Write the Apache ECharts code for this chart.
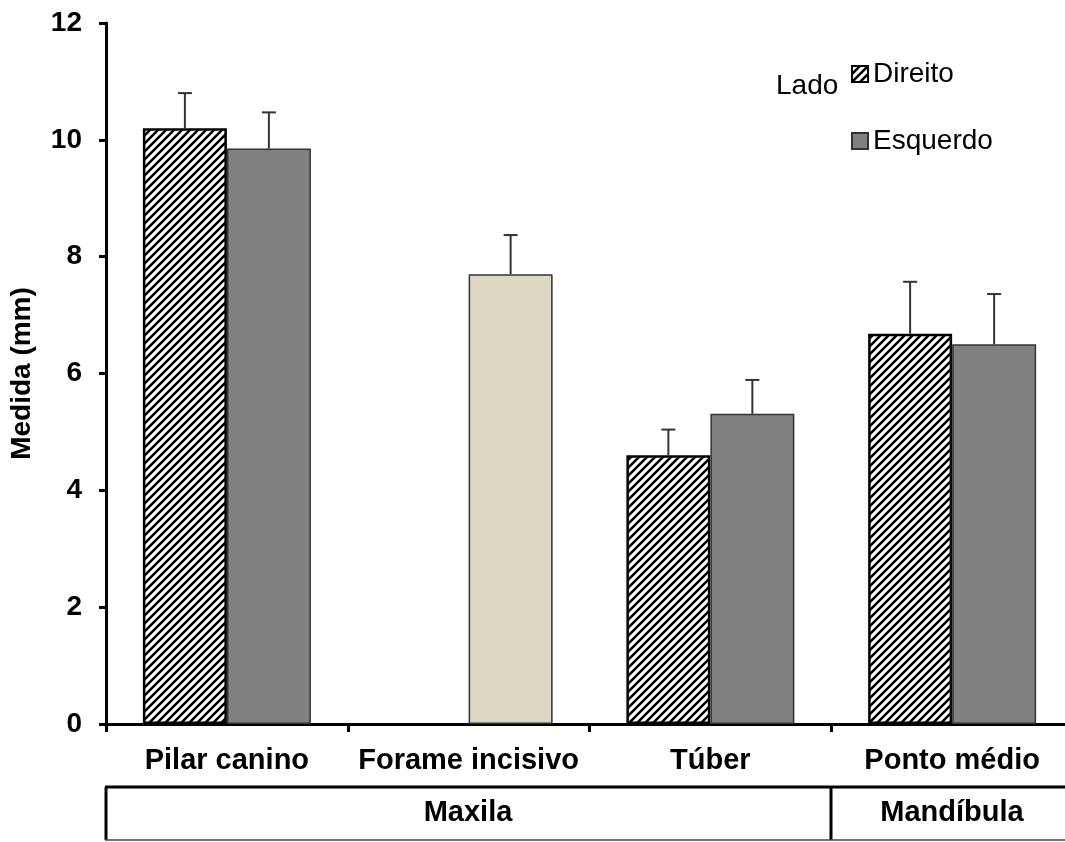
<!DOCTYPE html>
<html>
<head>
<meta charset="utf-8">
<script src="https://cdn.jsdelivr.net/npm/echarts@6/dist/echarts.min.js"></script>
<style>
  html, body { margin: 0; padding: 0; background: #fff; overflow: hidden; }
  #main { width: 1080px; height: 842px; }
</style>
</head>
<body>
<div id="main"></div>
<script>
var categories = ['Pilar canino', 'Forame incisivo', 'Túber', 'Ponto médio'];
var direito = [10.2, null, 4.6, 6.68];
var direitoErr = [0.6, null, 0.44, 0.89];
var esquerdo = [9.85, 7.7, 5.31, 6.5];
var esquerdoErr = [0.62, 0.67, 0.58, 0.86];
var groups = ['Maxila', 'Mandíbula'];

var FONT = '"Liberation Sans", Arial, sans-serif';
// the plot runs a little past the right edge of the 1065px window, as in the original
var W = 1080;
var gridLeft = 105, gridTop = 23, gridBottom = 118, catW = 242, barW = 84;

// hatch pattern for "Direito"
var tile = document.createElement('canvas');
tile.width = 8; tile.height = 8;
var ctx = tile.getContext('2d');
ctx.fillStyle = '#fff';
ctx.fillRect(0, 0, 8, 8);
ctx.strokeStyle = '#000';
ctx.lineWidth = 2.6;
ctx.beginPath();
ctx.moveTo(-2, 10); ctx.lineTo(10, -2);
ctx.moveTo(-2, 2); ctx.lineTo(2, -2);
ctx.moveTo(6, 10); ctx.lineTo(10, 6);
ctx.stroke();

var myChart = echarts.init(document.getElementById('main'));

function errorSeries(values, errs, offset) {
    var data = [];
    values.forEach(function (v, i) {
        if (v != null) data.push([i, v, errs[i]]);
    });
    return {
        type: 'custom',
        name: 'err',
        z: 5,
        silent: true,
        data: data,
        renderItem: function (params, api) {
            var base = api.coord([api.value(0), api.value(1)]);
            var top = api.coord([api.value(0), api.value(1) + api.value(2)]);
            var x = base[0] + offset;
            var style = { stroke: '#333', lineWidth: 2 };
            return {
                type: 'group',
                children: [
                    { type: 'line', shape: { x1: x, y1: base[1], x2: x, y2: top[1] }, style: style },
                    { type: 'line', shape: { x1: x - 7, y1: top[1], x2: x + 7, y2: top[1] }, style: style }
                ]
            };
        }
    };
}

var esquerdoData = esquerdo.map(function (v, i) {
    if (i === 1) {
        return { value: v, itemStyle: { color: '#DDD8C3', borderColor: '#333' } };
    }
    return v;
});

var x0 = gridLeft, xDiv = gridLeft + 3 * catW, xEnd = gridLeft + 4 * catW;
var boxTop = 787, boxBottom = 840, boxMid = 813;

option = {
    backgroundColor: '#fff',
    animation: false,
    title: {
        text: 'Lado',
        left: 776,
        top: 72,
        padding: 0,
        textStyle: { fontFamily: FONT, fontSize: 28, fontWeight: 'normal', color: '#000' }
    },
    legend: {
        data: ['Direito', 'Esquerdo'],
        orient: 'vertical',
        left: 851,
        top: 60,
        padding: 0,
        icon: 'rect',
        itemWidth: 16,
        itemHeight: 16,
        itemGap: 39,
        textStyle: { fontFamily: FONT, fontSize: 28, color: '#000', lineHeight: 28 }
    },
    grid: {
        left: gridLeft,
        top: gridTop,
        bottom: gridBottom,
        right: W - xEnd
    },
    xAxis: {
        type: 'category',
        data: categories,
        axisLine: { lineStyle: { color: '#000', width: 3 } },
        axisTick: { show: true, interval: 0, length: 8, lineStyle: { color: '#000', width: 3 } },
        axisLabel: {
            interval: 0,
            margin: 22,
            fontFamily: FONT, fontSize: 29, fontWeight: 'bold', color: '#000'
        }
    },
    yAxis: {
        type: 'value',
        min: 0,
        max: 12,
        interval: 2,
        name: 'Medida (mm)',
        nameLocation: 'middle',
        nameGap: 70,
        nameTextStyle: { fontFamily: FONT, fontSize: 28, fontWeight: 'bold', color: '#000' },
        splitLine: { show: false },
        axisLine: { show: true, lineStyle: { color: '#000', width: 3 } },
        axisTick: { show: true, length: 7, lineStyle: { color: '#000', width: 3 } },
        axisLabel: {
            margin: 24,
            fontFamily: FONT, fontSize: 28, fontWeight: 'bold', color: '#000'
        }
    },
    series: [
        {
            name: 'Direito',
            type: 'bar',
            data: direito,
            barWidth: barW,
            barGap: '0%',
            itemStyle: {
                color: { image: tile, repeat: 'repeat' },
                borderColor: '#000',
                borderWidth: 2.5
            }
        },
        {
            name: 'Esquerdo',
            type: 'bar',
            data: esquerdoData,
            barWidth: barW,
            barGap: '0%',
            itemStyle: {
                color: '#808080',
                borderColor: '#333',
                borderWidth: 1.5
            }
        },
        errorSeries(direito, direitoErr, -barW / 2),
        errorSeries(esquerdo, esquerdoErr, barW / 2)
    ],
    graphic: [
        { type: 'line', shape: { x1: x0, y1: boxTop, x2: W, y2: boxTop }, style: { stroke: '#000', lineWidth: 3 } },
        { type: 'line', shape: { x1: x0 + 1, y1: boxTop, x2: x0 + 1, y2: boxBottom }, style: { stroke: '#000', lineWidth: 3 } },
        { type: 'line', shape: { x1: xDiv, y1: boxTop, x2: xDiv, y2: boxBottom }, style: { stroke: '#000', lineWidth: 3 } },
        { type: 'line', shape: { x1: x0, y1: boxBottom, x2: W, y2: boxBottom }, style: { stroke: '#444', lineWidth: 1.5 } },
        {
            type: 'text', x: (x0 + xDiv) / 2, y: boxMid,
            style: { text: groups[0], fontFamily: FONT, fontSize: 29, fontWeight: 'bold', fill: '#000', align: 'center', verticalAlign: 'middle' }
        },
        {
            type: 'text', x: (xDiv + xEnd) / 2, y: boxMid,
            style: { text: groups[1], fontFamily: FONT, fontSize: 29, fontWeight: 'bold', fill: '#000', align: 'center', verticalAlign: 'middle' }
        }
    ]
};

myChart.setOption(option);
</script>
</body>
</html>
